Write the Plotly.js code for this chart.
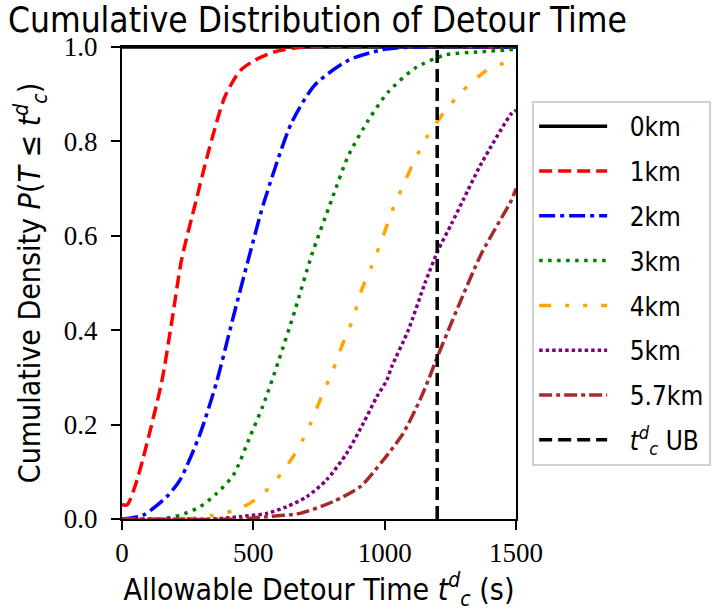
<!DOCTYPE html>
<html>
<head>
<meta charset="utf-8">
<script src="https://cdn.plot.ly/plotly-3.0.1.min.js"></script>
<style>html,body{margin:0;padding:0;background:#fff;}#chart{width:717px;height:614px;}</style>
</head>
<body>
<div id="chart"></div>
<script>
// Data
const seriesNames = ["0km", "1km", "2km", "3km", "4km", "5km", "5.7km"];
const ubName = "<i>t</i><sup><i>d</i></sup><sub><i>c</i></sub> UB";
const ubX = [1200, 1200];
const ubY = [0, 1];

const x0km = [0, 1500];
const y0km = [1, 1];

const x1km = [0, 20, 50, 81, 151, 190, 227, 280, 330, 392, 450, 506, 582, 700, 1500];
const y1km = [0.03, 0.03, 0.07, 0.13, 0.29, 0.42, 0.55, 0.67, 0.78, 0.895, 0.95, 0.972, 0.99, 1.0, 1.0];

const x2km = [0, 80, 170, 221, 297, 360, 420, 481, 540, 646, 735, 862, 989, 1100, 1500];
const y2km = [0, 0.008, 0.047, 0.083, 0.18, 0.29, 0.42, 0.55, 0.67, 0.84, 0.92, 0.972, 0.994, 1.0, 1.0];

const x3km = [0, 145, 221, 297, 360, 424, 487, 538, 595, 659, 722, 798, 862, 938, 1014, 1115, 1230, 1369, 1500];
const y3km = [0, 0, 0.008, 0.026, 0.054, 0.093, 0.174, 0.242, 0.333, 0.443, 0.559, 0.676, 0.77, 0.845, 0.905, 0.955, 0.983, 0.99, 0.995];

const x4km = [0, 250, 348, 449, 532, 608, 671, 716, 760, 804, 836, 880, 912, 950, 989, 1027, 1065, 1115, 1166, 1223, 1293, 1382, 1471, 1500];
const y4km = [0, 0, 0.008, 0.022, 0.051, 0.097, 0.15, 0.2, 0.26, 0.316, 0.365, 0.425, 0.485, 0.535, 0.591, 0.651, 0.7, 0.761, 0.814, 0.859, 0.905, 0.948, 0.97, 0.975];

const x5km = [0, 350, 449, 551, 627, 703, 779, 855, 919, 970, 1008, 1027, 1090, 1153, 1204, 1255, 1299, 1369, 1483, 1500];
const y5km = [0, 0, 0.005, 0.012, 0.026, 0.047, 0.083, 0.139, 0.203, 0.259, 0.294, 0.323, 0.4, 0.499, 0.57, 0.626, 0.676, 0.754, 0.859, 0.866];

const x57km = [0, 450, 551, 678, 804, 906, 995, 1071, 1134, 1166, 1191, 1280, 1369, 1483, 1500];
const y57km = [0, 0, 0.005, 0.012, 0.037, 0.068, 0.125, 0.182, 0.252, 0.294, 0.33, 0.45, 0.563, 0.676, 0.70];

const xTicks = [0, 500, 1000, 1500];
const yTicks = [0, 0.2, 0.4, 0.6, 0.8, 1.0];

const sans = "DejaVu Sans Condensed, Liberation Sans Narrow, DejaVu Sans, sans-serif";
const serif = "Liberation Serif, DejaVu Serif, serif";
const LW = 3.5;
const PAD = "\u2002\u2005";

function tr(name, x, y, color, dash, g, smooth) {
  return {type: "scatter", mode: "lines", name: PAD + name, x: x, y: y,
          legendgroup: "g" + g,
          line: {color: color, width: LW, dash: dash,
                 shape: smooth ? "spline" : "linear", smoothing: 0.7}};
}

const traces = [
  tr(seriesNames[0], x0km, y0km, "black", "solid", 0, false),
  tr(seriesNames[1], x1km, y1km, "red", "13px,6px", 1, true),
  tr(seriesNames[2], x2km, y2km, "blue", "16px,5px,4px,5px", 2, true),
  tr(seriesNames[3], x3km, y3km, "green", "3.5px,5.5px", 3, true),
  tr(seriesNames[4], x4km, y4km, "orange", "12px,14px,4px,14px,4px,14px", 4, true),
  tr(seriesNames[5], x5km, y5km, "purple", "3.5px,3px", 5, true),
  tr(seriesNames[6], x57km, y57km, "brown", "13px,4px,4px,4px", 6, true),
  tr(ubName, ubX, ubY, "black", "13px,6px", 7, false)
];

const layout = {
  width: 717, height: 614,
  margin: {l: 122, r: 201, t: 47, b: 95, autoexpand: false},
  paper_bgcolor: "white", plot_bgcolor: "white",
  showlegend: true,
  title: {text: "Cumulative Distribution of Detour Time",
          font: {family: sans, size: 35, color: "black"},
          x: 8/717, xanchor: "left", xref: "container",
          y: 1 - 20/614, yanchor: "middle", yref: "container"},
  xaxis: {range: [0, 1500], tickvals: xTicks, ticktext: xTicks.map(String),
          showgrid: false, zeroline: false, automargin: false,
          showline: true, linecolor: "black", linewidth: 2, mirror: true,
          ticks: "outside", ticklen: 9, tickwidth: 2, tickcolor: "black",
          tickfont: {family: serif, size: 27, color: "black"},
          title: {text: "Allowable Detour Time <i>t</i><sup><i>d</i></sup><sub><i>c</i></sub> (s)",
                  font: {family: sans, size: 30, color: "black"}, standoff: 10}},
  yaxis: {range: [0, 1], tickvals: yTicks, ticktext: yTicks.map(v => v.toFixed(1)),
          showgrid: false, zeroline: false, automargin: false,
          showline: true, linecolor: "black", linewidth: 2, mirror: true,
          ticks: "outside", ticklen: 9, tickwidth: 2, tickcolor: "black",
          ticklabelstandoff: 8,
          tickfont: {family: serif, size: 27, color: "black"},
          title: {text: "Cumulative Density <i>P</i>(<i>T</i> ≤ <i>t</i><sup><i>d</i></sup><sub><i>c</i></sub>)",
                  font: {family: sans, size: 30, color: "black"}, standoff: 14}},
  legend: {x: 1.041, xanchor: "left", y: 0.886, yanchor: "top",
           bgcolor: "white", bordercolor: "#d0d0d0", borderwidth: 2,
           font: {family: sans, size: 26, color: "black"},
           itemwidth: 68, tracegroupgap: 8, traceorder: "grouped"}
};

Plotly.newPlot("chart", traces, layout, {displayModeBar: false, staticPlot: true});
</script>
</body>
</html>
